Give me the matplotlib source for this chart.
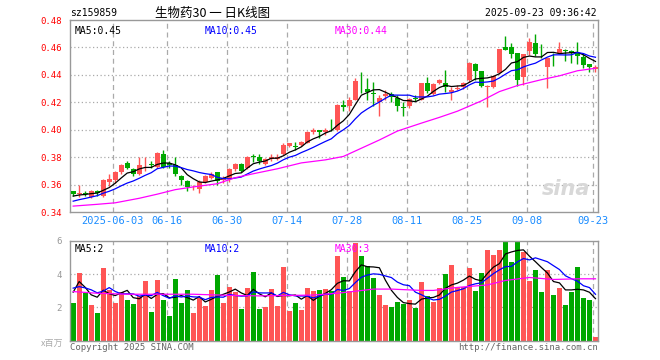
import matplotlib
matplotlib.use("Agg")
import matplotlib.pyplot as plt
import pandas as pd

# Daily candles, 2025-05-22 .. 2025-09-23 (88 sessions)
opens = [0.355, 0.353, 0.354, 0.351, 0.355, 0.352, 0.362, 0.363, 0.369, 0.376,
         0.371, 0.368, 0.374, 0.375, 0.373, 0.382, 0.376, 0.374, 0.366, 0.3625,
         0.358, 0.3565, 0.362, 0.365, 0.369, 0.363, 0.364, 0.371, 0.3747, 0.3718,
         0.3805, 0.3798, 0.3747, 0.3784, 0.379, 0.382, 0.388, 0.3878, 0.389, 0.3905,
         0.398, 0.400, 0.3985, 0.400, 0.400, 0.4178, 0.4176, 0.4219, 0.434, 0.430,
         0.4268, 0.420, 0.4247, 0.4263, 0.423, 0.4163, 0.4171, 0.423, 0.422, 0.4343,
         0.4258, 0.4338, 0.4343, 0.4276, 0.4298, 0.4313, 0.4363, 0.4477, 0.4427, 0.4313,
         0.4311, 0.441, 0.460, 0.460, 0.4558, 0.4385, 0.4575, 0.4632, 0.4555, 0.4459,
         0.4563, 0.4563, 0.4583, 0.4575, 0.4563, 0.4531, 0.4477, 0.4445]
highs = [0.3555, 0.360, 0.3555, 0.356, 0.356, 0.3637, 0.368, 0.370, 0.375, 0.377,
         0.372, 0.380, 0.380, 0.377, 0.384, 0.385, 0.377, 0.380, 0.367, 0.363,
         0.360, 0.363, 0.367, 0.369, 0.369, 0.366, 0.372, 0.376, 0.376, 0.3805,
         0.3825, 0.382, 0.3795, 0.3825, 0.382, 0.3905, 0.390, 0.391, 0.392, 0.399,
         0.401, 0.400, 0.401, 0.4075, 0.419, 0.4214, 0.4238, 0.438, 0.442, 0.4375,
         0.435, 0.425, 0.429, 0.4276, 0.425, 0.420, 0.4231, 0.425, 0.434, 0.4388,
         0.4338, 0.4368, 0.4437, 0.4313, 0.4325, 0.435, 0.4495, 0.4489, 0.4427, 0.4328,
         0.4402, 0.459, 0.4686, 0.4632, 0.4558, 0.4551, 0.4667, 0.4699, 0.4625, 0.4526,
         0.4563, 0.4642, 0.4585, 0.4583, 0.4642, 0.4563, 0.4477, 0.447]
lows = [0.352, 0.351, 0.352, 0.3505, 0.352, 0.351, 0.359, 0.361, 0.368, 0.371,
        0.366, 0.367, 0.370, 0.372, 0.372, 0.372, 0.372, 0.366, 0.360, 0.355,
        0.356, 0.3535, 0.361, 0.364, 0.360, 0.361, 0.362, 0.370, 0.369, 0.371,
        0.3765, 0.3747, 0.374, 0.377, 0.378, 0.3815, 0.3875, 0.385, 0.388, 0.390,
        0.397, 0.3937, 0.396, 0.399, 0.399, 0.4134, 0.414, 0.4214, 0.4268, 0.4214,
        0.4176, 0.410, 0.422, 0.420, 0.414, 0.410, 0.416, 0.421, 0.4215, 0.427,
        0.425, 0.433, 0.4276, 0.4214, 0.4288, 0.430, 0.435, 0.4365, 0.4311, 0.4168,
        0.4304, 0.4405, 0.458, 0.4526, 0.4316, 0.4328, 0.4543, 0.4538, 0.4526, 0.4304,
        0.4464, 0.4558, 0.450, 0.449, 0.4477, 0.4452, 0.442, 0.442]
closes = [0.353, 0.354, 0.353, 0.355, 0.354, 0.363, 0.364, 0.369, 0.374, 0.372,
          0.368, 0.374, 0.3745, 0.374, 0.383, 0.373, 0.374, 0.368, 0.363, 0.358,
          0.3585, 0.362, 0.366, 0.368, 0.3625, 0.364, 0.371, 0.375, 0.370, 0.380,
          0.380, 0.3769, 0.379, 0.380, 0.3803, 0.3886, 0.390, 0.3875, 0.391, 0.3983,
          0.400, 0.3985, 0.400, 0.3995, 0.418, 0.4164, 0.4219, 0.4358, 0.4337, 0.4276,
          0.4262, 0.423, 0.4263, 0.4238, 0.4176, 0.4158, 0.4221, 0.4227, 0.4338, 0.428,
          0.433, 0.4363, 0.4308, 0.4293, 0.430, 0.4343, 0.4487, 0.4427, 0.4316, 0.4316,
          0.4395, 0.4588, 0.4583, 0.455, 0.4365, 0.4551, 0.4637, 0.4551, 0.455, 0.4526,
          0.4558, 0.4588, 0.4573, 0.4563, 0.4538, 0.4469, 0.4459, 0.446]
# closes of the 9 sessions before the window (for MA5 / MA10)
prev_closes = [0.343, 0.344, 0.345, 0.344, 0.345, 0.350, 0.351, 0.352, 0.352]

# volume in millions
volumes = [2.28, 4.10, 2.85, 2.14, 1.68, 4.40, 3.05, 2.28, 2.95, 2.44,
           2.20, 2.71, 3.60, 1.72, 3.66, 2.44, 1.47, 3.72, 2.26, 3.05,
           1.68, 2.55, 2.08, 3.05, 3.96, 2.28, 3.25, 2.95, 1.90, 3.19,
           4.14, 1.90, 2.04, 3.11, 2.08, 4.46, 1.80, 2.28, 1.84, 3.17,
           3.01, 3.05, 3.11, 2.99, 5.07, 3.80, 2.99, 5.88, 5.07, 4.50,
           3.74, 2.75, 2.14, 2.02, 2.34, 2.18, 2.44, 1.98, 3.52, 2.71,
           2.34, 3.17, 4.00, 4.53, 3.25, 3.25, 4.40, 3.01, 4.10, 5.47,
           5.13, 5.47, 5.92, 4.71, 5.92, 5.31, 3.56, 4.26, 2.95, 4.26,
           2.75, 3.15, 2.14, 2.95, 4.46, 2.55, 2.44, 0.22]
prev_volumes = [3.2, 3.6, 3.3, 3.5, 3.4, 0.9, 4.6, 4.4, 2.4]

# MA30 lines (session index, value)
ma30_idx = [0, 4, 7, 11, 14, 17, 20, 24, 27, 30, 34, 38, 42, 45, 48, 51,
            54, 58, 61, 64, 68, 71, 74, 78, 81, 84, 87]
ma30_val = [0.3443, 0.3456, 0.3467, 0.3500, 0.3530, 0.3563, 0.3583, 0.3606,
            0.3650, 0.3679, 0.3715, 0.3758, 0.3780, 0.3805, 0.3865, 0.3925,
            0.3990, 0.4048, 0.4090, 0.4135, 0.4210, 0.4278, 0.4322, 0.4365,
            0.4393, 0.4430, 0.4448]
vol_ma30_idx = [0, 4, 9, 20, 26, 31, 40, 44, 47, 50, 53, 58, 60, 64, 69, 72,
                76, 80, 84, 87]
vol_ma30_val = [2.95, 2.85, 2.79, 2.79, 2.72, 2.69, 2.74, 2.85, 2.97, 3.10,
                3.10, 3.02, 3.02, 3.20, 3.35, 3.62, 3.80, 3.68, 3.72, 3.72]

date_idx = [7, 16, 26, 36, 46, 56, 66, 76, 87]
date_labels = ["2025-06-03", "06-16", "06-30", "07-14", "07-28", "08-11",
               "08-25", "09-08", "09-23"]
price_ticks = [0.34, 0.36, 0.38, 0.40, 0.42, 0.44, 0.46, 0.48]
vol_ticks = [2, 4, 6]

RED = "#ff5555"
GREEN = "#00a800"
GRID = "#aaaaaa"
FRAME = "#999999"
MONO = "DejaVu Sans Mono"
W, H = 660, 360

n = len(closes)
x = list(range(n))
colors = [RED if c >= o else GREEN for o, c in zip(opens, closes)]

c_all = pd.Series(prev_closes + closes)
ma5 = c_all.rolling(5).mean().iloc[len(prev_closes):].values
ma10 = c_all.rolling(10).mean().iloc[len(prev_closes):].values
v_all = pd.Series(prev_volumes + volumes)
vma5 = v_all.rolling(5).mean().iloc[len(prev_volumes):].values
vma10 = v_all.rolling(10).mean().iloc[len(prev_volumes):].values

fig = plt.figure(figsize=(6.6, 3.6), dpi=100)
fig.patch.set_facecolor("white")

def fx(px):
    return px / W

def fy(py):
    return 1 - py / H

ax = fig.add_axes([fx(70), fy(212), fx(528), 192 / H])
axv = fig.add_axes([fx(70), fy(340.5), fx(528), 99.5 / H])

for a in (ax, axv):
    a.set_xlim(-0.53, n - 0.58)
    for s in a.spines.values():
        s.set_color(FRAME)
        s.set_linewidth(1)
    a.tick_params(length=0)
    for d in date_idx:
        a.axvline(d - 0.42, color=GRID, lw=0.9, ls=(0, (4, 3)), zorder=0)

# price panel
ax.set_ylim(0.34, 0.48)
for t in price_ticks[1:-1]:
    ax.axhline(t, color=GRID, lw=0.9, ls=(0, (1, 2)), zorder=0)
ax.set_yticks(price_ticks)
ax.set_yticklabels([f"{t:.2f}" for t in price_ticks], color="red",
                   fontsize=6.5, family=MONO)
ax.tick_params(axis="y", pad=6)

ax.vlines(x, lows, highs, colors=colors, lw=1, zorder=2)
bottoms = [min(o, c) for o, c in zip(opens, closes)]
heights = [max(abs(c - o), 0.0003) for o, c in zip(opens, closes)]
ax.bar(x, heights, bottom=bottoms, width=0.8, color=colors, lw=0, zorder=3)

ax.plot(x, ma5, color="black", lw=0.9, zorder=4)
ax.plot(x, ma10, color="#0000ff", lw=0.9, zorder=4)
ax.plot(ma30_idx, ma30_val, color="#ff00ff", lw=0.9, zorder=4)

ax.set_xticks([d - 0.42 for d in date_idx])
ax.set_xticklabels(date_labels, color="#1a8cff", fontsize=7.5, family=MONO)
ax.tick_params(axis="x", pad=3)

ax.text(fx(5) / fx(528), 0.97, "MA5:0.45", transform=ax.transAxes,
        color="black", fontsize=7, family=MONO, va="top")
ax.text(135 / 528, 0.97, "MA10:0.45", transform=ax.transAxes,
        color="#0000ff", fontsize=7, family=MONO, va="top")
ax.text(265 / 528, 0.97, "MA30:0.44", transform=ax.transAxes,
        color="#ff00ff", fontsize=7, family=MONO, va="top")
ax.text(0.985, 0.12, "sina", transform=ax.transAxes, color="#d8d8d8",
        fontsize=15, fontweight="bold", style="italic", ha="right", va="center",
        zorder=1)

# volume panel
axv.set_ylim(0, 6)
for t in vol_ticks[:-1]:
    axv.axhline(t, color=GRID, lw=0.9, ls=(0, (1, 2)), zorder=0)
axv.bar(x, volumes, width=0.8, color=colors, lw=0, zorder=2)
axv.plot(x, vma5, color="black", lw=0.9, zorder=3)
axv.plot(x, vma10, color="#0000ff", lw=0.9, zorder=3)
axv.plot(vol_ma30_idx, vol_ma30_val, color="#ff00ff", lw=0.9, zorder=3)
axv.set_xticks([])
axv.set_yticks(vol_ticks)
axv.set_yticklabels([str(t) for t in vol_ticks], color="#999999",
                    fontsize=6.5, family=MONO)
axv.tick_params(axis="y", pad=6)
axv.text(5 / 528, 0.97, "MA5:2", transform=axv.transAxes,
         color="black", fontsize=7, family=MONO, va="top")
axv.text(135 / 528, 0.97, "MA10:2", transform=axv.transAxes,
         color="#0000ff", fontsize=7, family=MONO, va="top")
axv.text(265 / 528, 0.97, "MA30:3", transform=axv.transAxes,
         color="#ff00ff", fontsize=7, family=MONO, va="top")

# header and footer
fig.text(fx(70), fy(13), "sz159859", fontsize=7, family=MONO, va="center")
fig.text(fx(213), fy(13), "生物药30 一 日K线图", fontsize=9,
         family=["Noto Sans CJK SC", "DejaVu Sans"], ha="center", va="center")
fig.text(fx(597), fy(13), "2025-09-23 09:36:42", fontsize=7, family=MONO,
         ha="right", va="center")
fig.text(fx(52), fy(343), "x百万", fontsize=6.5, color="#aaaaaa",
         family=["Noto Sans CJK SC", "DejaVu Sans"], ha="center", va="center")
fig.text(fx(70), fy(348), "Copyright 2025 SINA.COM", fontsize=6.5,
         color="#666666", family=MONO, va="center")
fig.text(fx(598), fy(348), "http://finance.sina.com.cn", fontsize=6.5,
         color="#666666", family=MONO, ha="right", va="center")

fig.savefig("out.png", dpi=100)
